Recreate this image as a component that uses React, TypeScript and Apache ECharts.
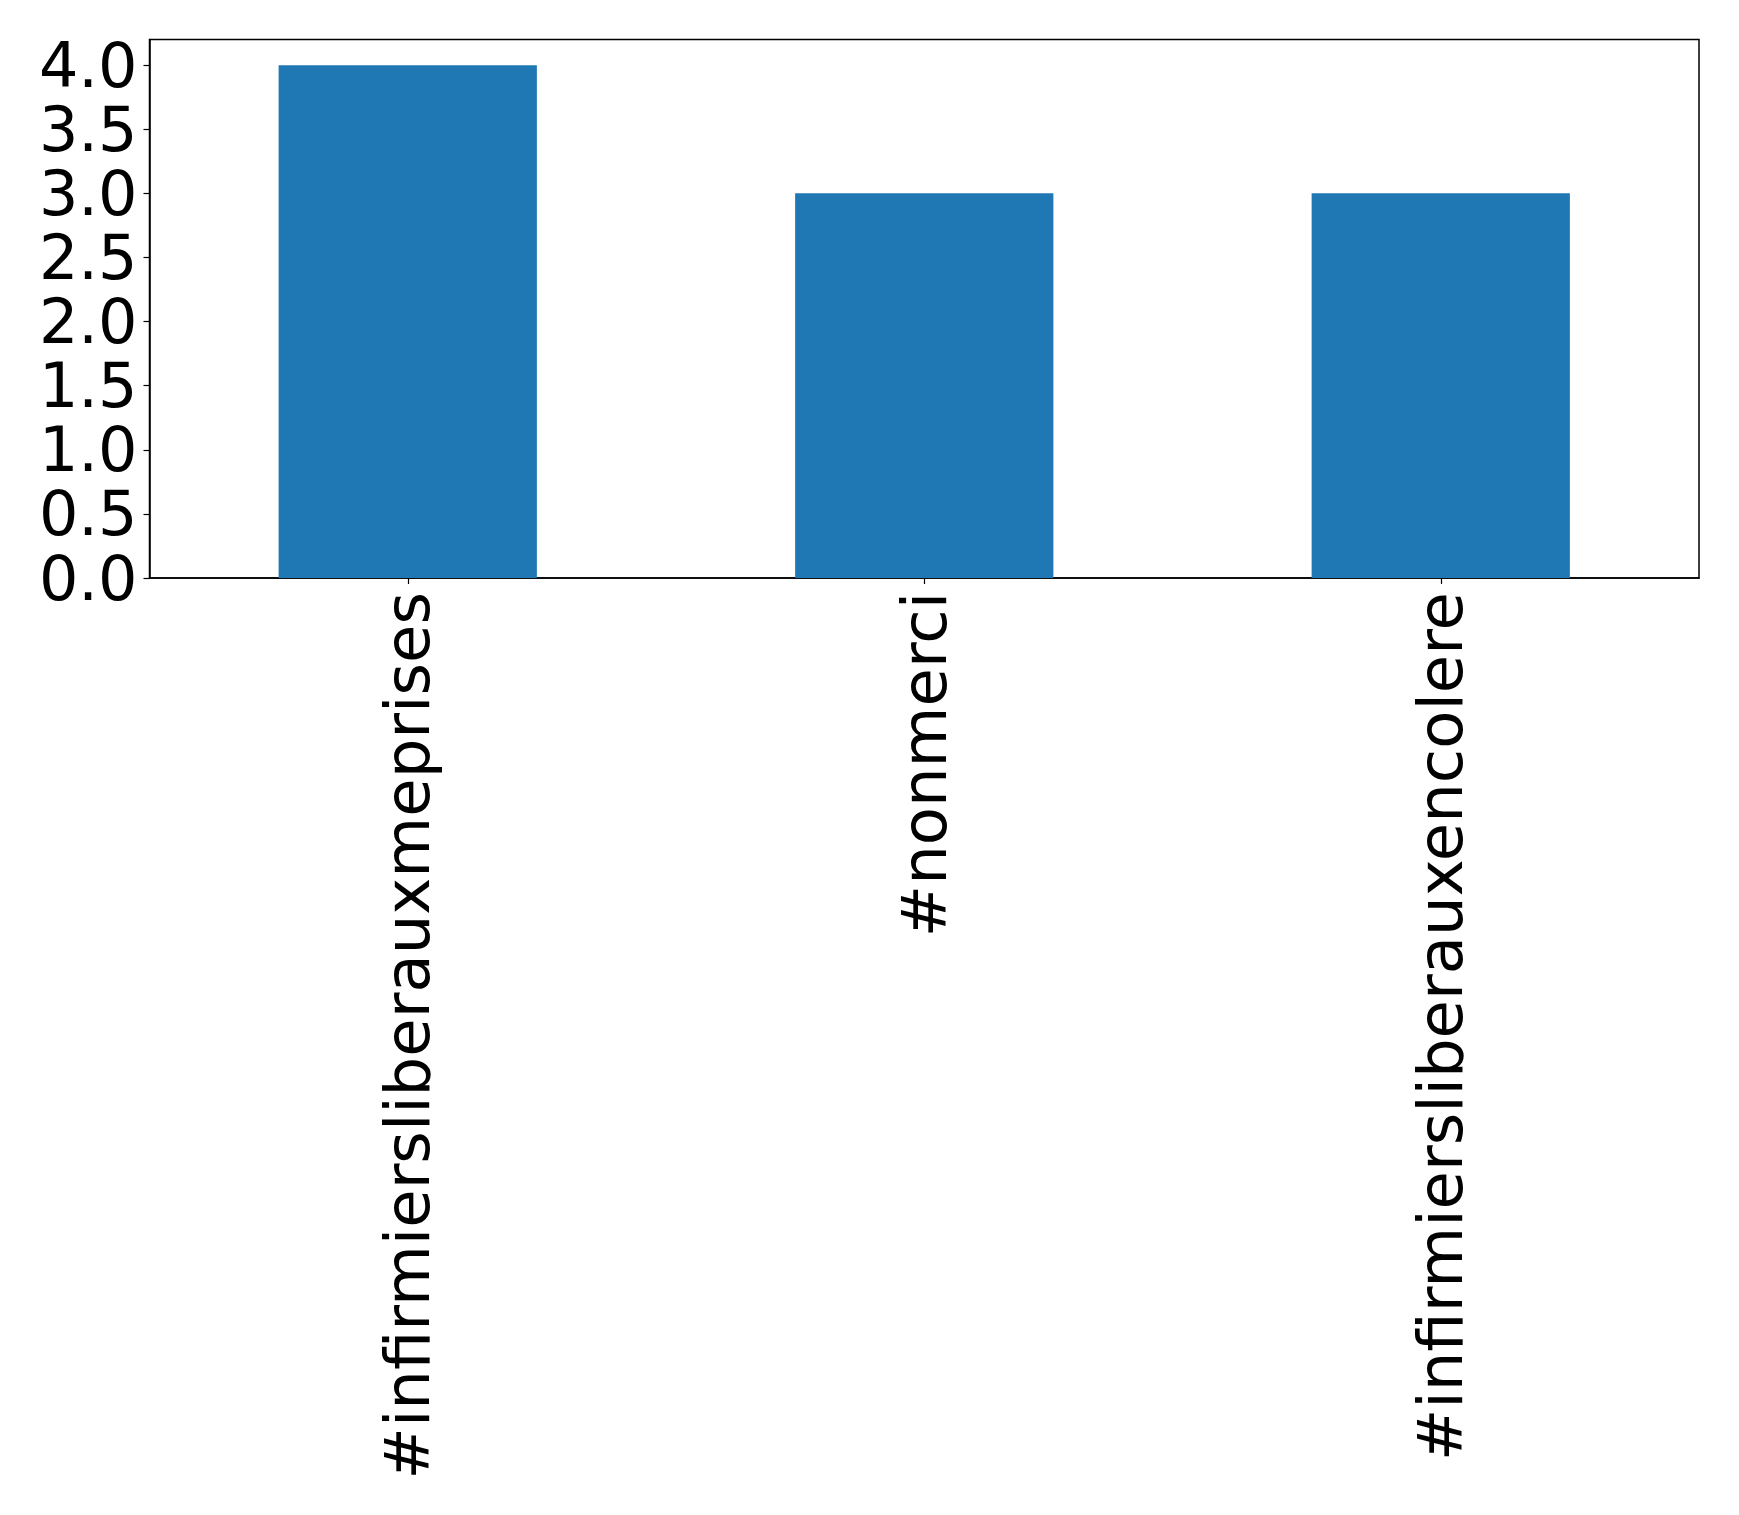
import React, { useEffect, useRef } from "react";
import * as echarts from "echarts";

const categories = ["#infirmiersliberauxmeprises", "#nonmerci", "#infirmiersliberauxencolere"];
const values = [4, 3, 3];
const yTicks = [0, 0.5, 1.0, 1.5, 2.0, 2.5, 3.0, 3.5, 4.0];

export default function App() {
  const ref = useRef<HTMLDivElement>(null);
  useEffect(() => {
    if (!ref.current) return;
    const chart = echarts.init(ref.current, null, { renderer: "svg" });
    chart.setOption({
      animation: false,
      backgroundColor: "#ffffff",
      textStyle: { fontFamily: "DejaVu Sans" },
      grid: {
        left: 149.5,
        top: 39.5,
        width: 1549.5,
        height: 538.5,
        show: true,
        borderColor: "#000000",
        borderWidth: 1.5,
        backgroundColor: "transparent",
        containLabel: false,
      },
      xAxis: {
        type: "category",
        data: categories,
        boundaryGap: true,
        axisLine: { show: true, lineStyle: { color: "#000000", width: 1.5 } },
        axisTick: { show: true, alignWithLabel: true, length: 6, lineStyle: { color: "#000000", width: 1.2 } },
        axisLabel: {
          rotate: 90,
          margin: 14,
          color: "#000000",
          fontSize: 62.5,
          fontFamily: "DejaVu Sans",
          interval: 0,
        },
        splitLine: { show: false },
      },
      yAxis: {
        type: "value",
        min: 0,
        max: 4.2,
        interval: 0.5,
        axisLine: { show: true, lineStyle: { color: "#000000", width: 1.5 } },
        axisTick: { show: true, length: 6, lineStyle: { color: "#000000", width: 1.2 }, customValues: yTicks },
        axisLabel: {
          margin: 12,
          color: "#000000",
          fontSize: 62,
          lineHeight: 56,
          fontFamily: "DejaVu Sans",
          customValues: yTicks,
          formatter: (v: number) => v.toFixed(1),
        },
        splitLine: { show: false },
      },
      series: [
        {
          type: "bar",
          data: values,
          barWidth: "50%",
          itemStyle: { color: "#1f77b4" },
        },
      ],
    });
    return () => chart.dispose();
  }, []);
  return (
    <div
      ref={ref}
      style={{ position: "absolute", left: 0, top: 0, width: 1739, height: 1515 }}
    />
  );
}
